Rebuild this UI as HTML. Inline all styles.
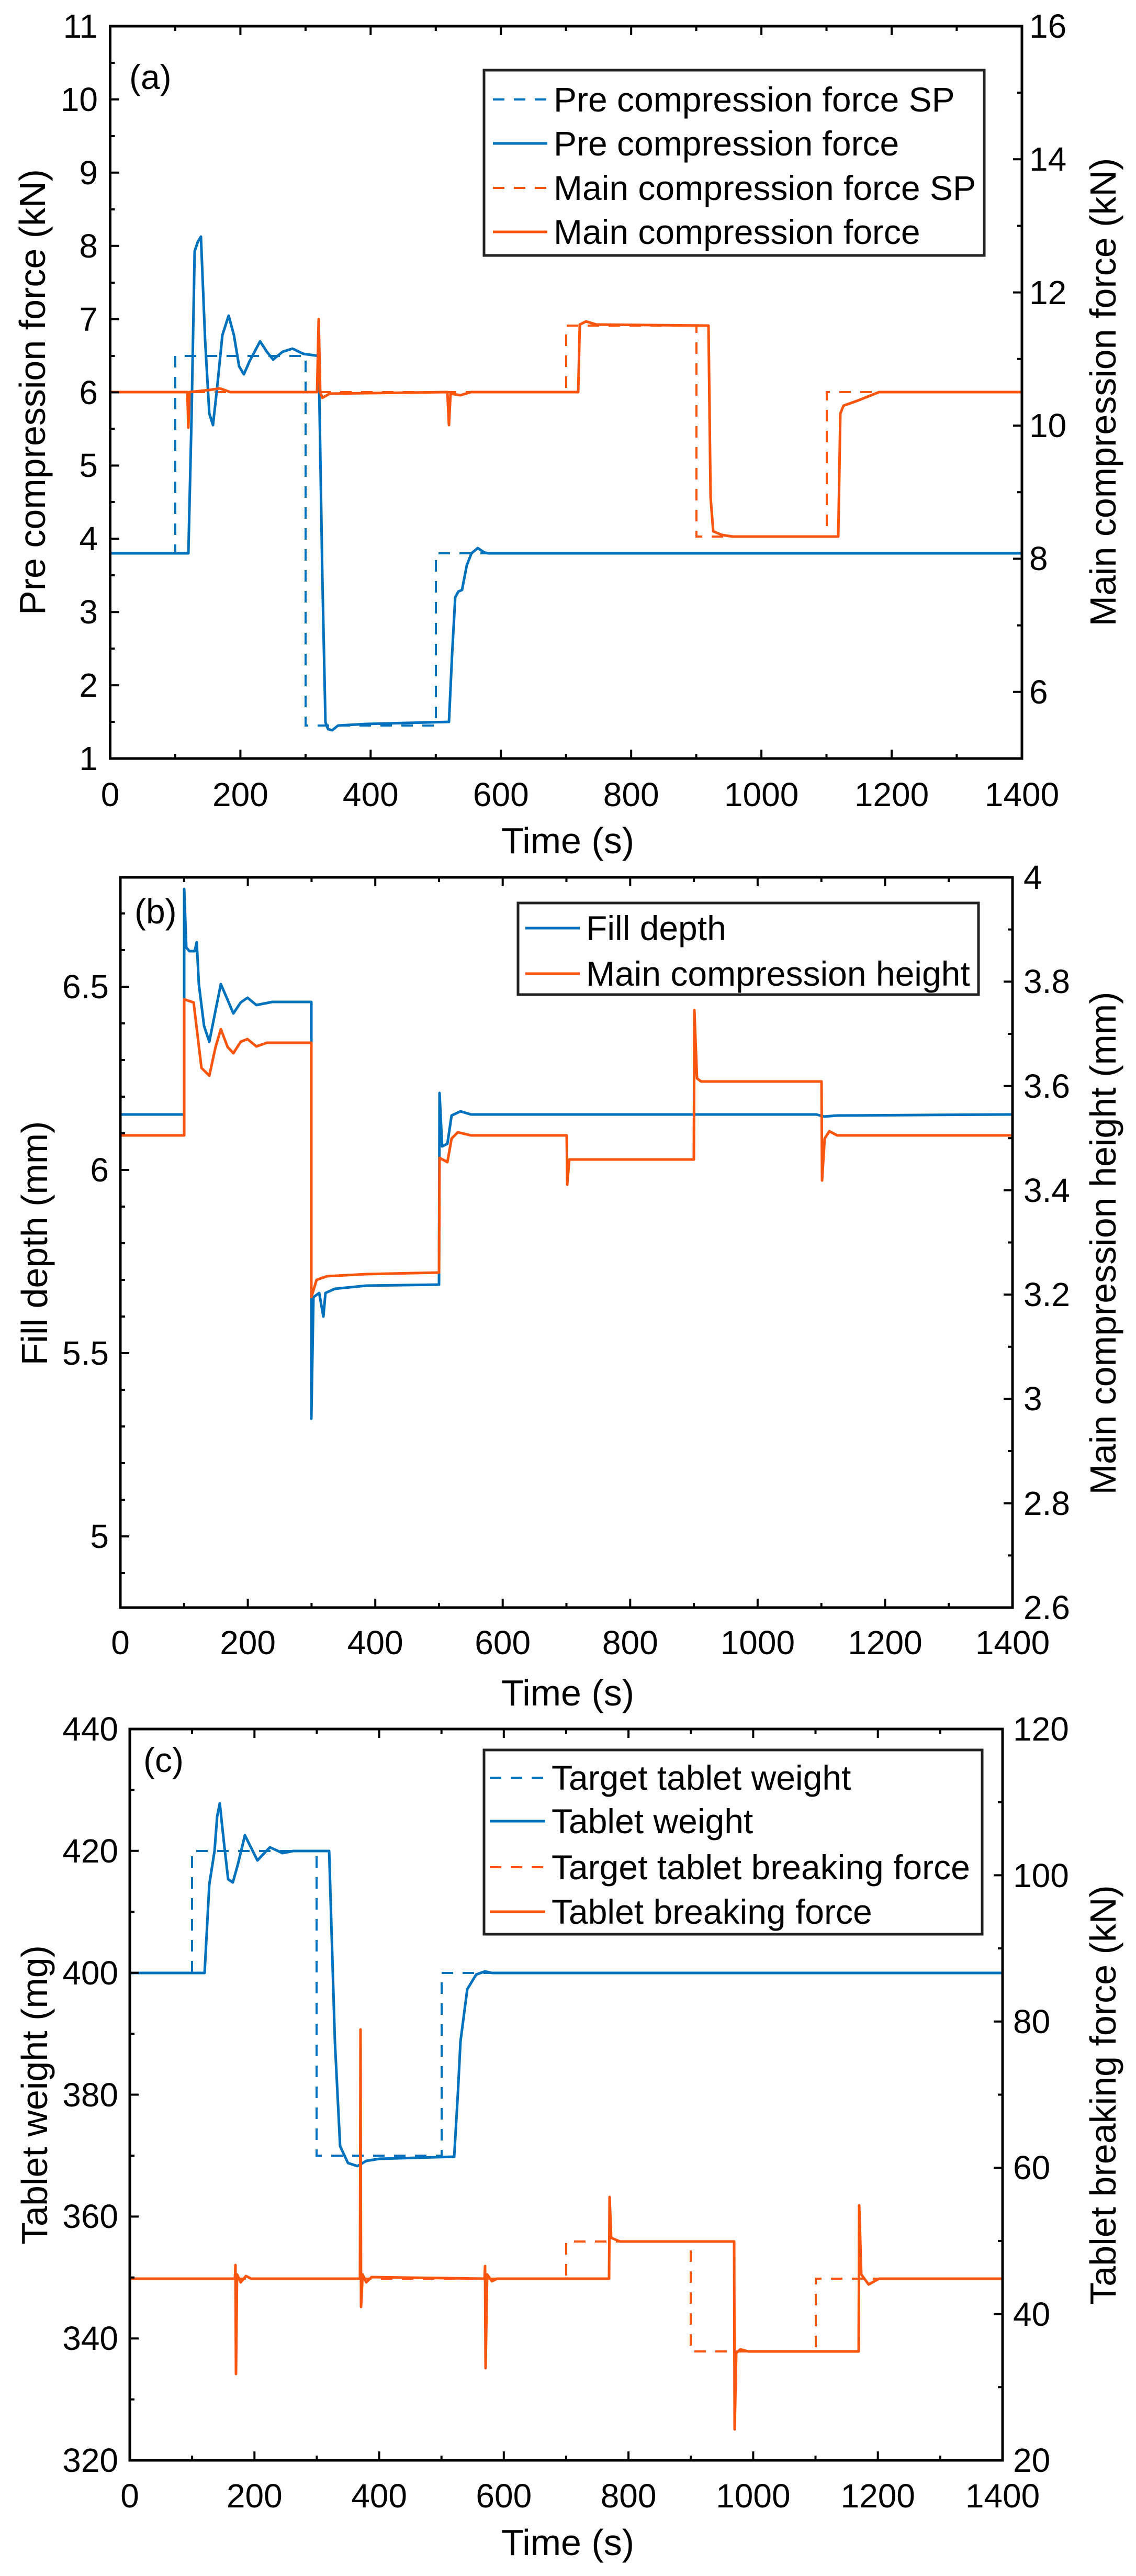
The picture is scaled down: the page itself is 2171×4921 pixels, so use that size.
<!DOCTYPE html>
<html><head><meta charset="utf-8"><style>
html,body{margin:0;padding:0;background:#fff;}
svg{display:block;}
text{font-family:"Liberation Sans",Arial,sans-serif;fill:#000;}
.tk{font-size:64px;}
.lb{font-size:70px;}
.lg{font-size:66px;}
.ax{fill:none;stroke:#000;stroke-width:5;}
.t{stroke:#000;stroke-width:4;fill:none;}
.b{fill:none;stroke:#0072BD;stroke-width:5;stroke-linejoin:round;}
.o{fill:none;stroke:#FA550F;stroke-width:5;stroke-linejoin:round;}
.bd{fill:none;stroke:#0072BD;stroke-width:4;stroke-dasharray:22 18;}
.od{fill:none;stroke:#FA550F;stroke-width:4;stroke-dasharray:22 18;}
</style></head><body>
<svg width="2171" height="4921" viewBox="0 0 2171 4921" xmlns="http://www.w3.org/2000/svg">
<rect width="2171" height="4921" fill="#fff"/>

<!-- ================= PANEL A ================= -->
<polyline class="bd" points="210,1057 335,1057 335,680 584,680 584,1386 833,1386 833,1057 1953,1057"/>
<polyline class="od" points="210,749 1082,749 1082,622 1331,622 1331,1025 1580,1025 1580,749 1953,749"/>
<polyline class="b" points="210,1057 360,1057 366,800 372,480 378,462 384,452 392,650 400,790 407,812 415,740 425,640 437,603 447,640 457,700 466,715 477,690 497,652 510,672 522,687 540,672 559,666 580,676 609,680 616,1100 622,1380 627,1393 635,1395 646,1386 700,1383 858,1379 864,1250 870,1141 876,1130 883,1127 892,1080 901,1057 913,1047 925,1055 932,1057 1953,1057"/>
<polyline class="o" points="210,749 358,749 360,817 362,749 400,745 420,742 440,749 606,749 609,610 612,749 616,760 630,752 855,749 858,812 861,752 880,755 900,749 1105,749 1108,620 1120,614 1140,620 1354,622 1358,950 1363,1015 1380,1022 1400,1025 1602,1025 1606,790 1612,775 1640,765 1680,749 1953,749"/>
<rect class="ax" x="210.5" y="50" width="1742.5" height="1399"/>
<path class="t" d="M210.5,1449v-17M459.4,1449v-17M708.3,1449v-17M957.3,1449v-17M1206.2,1449v-17M1455.1,1449v-17M1704,1449v-17
M210.5,50v17M459.4,50v17M708.3,50v17M957.3,50v17M1206.2,50v17M1455.1,50v17M1704,50v17
M334.9,1449v-9M583.9,1449v-9M832.8,1449v-9M1081.7,1449v-9M1330.6,1449v-9M1579.5,1449v-9M1828.4,1449v-9
M334.9,50v9M583.9,50v9M832.8,50v9M1081.7,50v9M1330.6,50v9M1579.5,50v9M1828.4,50v9
M210.5,1309.1h17M210.5,1169.2h17M210.5,1029.3h17M210.5,889.4h17M210.5,749.5h17M210.5,609.6h17M210.5,469.7h17M210.5,329.8h17M210.5,189.9h17
M210.5,1379h9M210.5,1239h9M210.5,1099h9M210.5,959h9M210.5,819h9M210.5,680h9M210.5,540h9M210.5,400h9M210.5,260h9M210.5,120h9
M1953,1321.8h-17M1953,1067.4h-17M1953,813h-17M1953,558.6h-17M1953,304.2h-17
M1953,1194.6h-9M1953,940.2h-9M1953,685.8h-9M1953,431.4h-9M1953,177h-9"/>
<g class="tk" text-anchor="end">
<text x="187" y="1471">1</text><text x="187" y="1331">2</text><text x="187" y="1191">3</text><text x="187" y="1051">4</text><text x="187" y="911">5</text><text x="187" y="772">6</text><text x="187" y="632">7</text><text x="187" y="492">8</text><text x="187" y="352">9</text><text x="187" y="212">10</text><text x="187" y="72">11</text>
</g>
<g class="tk"><text x="1967" y="1344">6</text><text x="1967" y="1089">8</text><text x="1967" y="835">10</text><text x="1967" y="581">12</text><text x="1967" y="326">14</text><text x="1967" y="72">16</text></g>
<g class="tk" text-anchor="middle"><text x="210.5" y="1540">0</text><text x="459.4" y="1540">200</text><text x="708.3" y="1540">400</text><text x="957.3" y="1540">600</text><text x="1206.2" y="1540">800</text><text x="1455.1" y="1540">1000</text><text x="1704" y="1540">1200</text><text x="1953" y="1540">1400</text></g>
<text class="lb" x="1085" y="1630" text-anchor="middle">Time (s)</text>
<text class="lb" transform="translate(86,749) rotate(-90)" text-anchor="middle">Pre compression force (kN)</text>
<text class="lb" transform="translate(2132,749) rotate(-90)" text-anchor="middle">Main compression force (kN)</text>
<text class="lg" x="247" y="170">(a)</text>
<rect x="925" y="134" width="956" height="354" fill="#fff" stroke="#222" stroke-width="5"/>
<line x1="942" y1="190" x2="1046" y2="190" class="bd" stroke-width="5"/>
<line x1="942" y1="274" x2="1046" y2="274" class="b" stroke-width="4"/>
<line x1="942" y1="359" x2="1046" y2="359" class="od" stroke-width="5"/>
<line x1="942" y1="443" x2="1046" y2="443" class="o"/>
<g class="lg"><text x="1058" y="213">Pre compression force SP</text><text x="1058" y="297">Pre compression force</text><text x="1058" y="382">Main compression force SP</text><text x="1058" y="466">Main compression force</text></g>

<!-- ================= PANEL B ================= -->
<polyline class="b" points="230,2129 352,2129 352,1698 356,1810 362,1817 372,1817 376,1800 380,1880 390,1960 400,1990 410,1940 422,1880 435,1910 446,1936 460,1915 473,1906 490,1920 520,1914 595,1914 595,2710 599,2478 610,2470 618,2515 622,2470 640,2462 700,2456 839,2454 840,2088 845,2190 855,2185 863,2131 880,2123 900,2129 1560,2129 1575,2133 1600,2131 1935,2129"/>
<polyline class="o" points="230,2169 352,2169 352,1909 370,1915 385,2040 400,2055 412,2000 422,1966 435,2000 446,2012 460,1990 473,1985 490,1999 510,1992 595,1992 595,2478 605,2445 625,2438 700,2434 839,2431 840,2212 855,2220 863,2175 875,2163 900,2169 1083,2169 1084,2263 1088,2215 1326,2215 1327,1930 1332,2060 1340,2066 1570,2066 1571,2255 1576,2175 1585,2161 1600,2169 1935,2169"/>
<rect class="ax" x="230" y="1676" width="1705" height="1395"/>
<path class="t" d="M230,3071v-17M473.6,3071v-17M717.2,3071v-17M960.7,3071v-17M1204.3,3071v-17M1447.9,3071v-17M1691.5,3071v-17
M473.6,1676v17M717.2,1676v17M960.7,1676v17M1204.3,1676v17M1447.9,1676v17M1691.5,1676v17
M351.8,3071v-9M595.4,3071v-9M839,3071v-9M1082.5,3071v-9M1326.1,3071v-9M1569.7,3071v-9M1813.2,3071v-9
M351.8,1676v9M595.4,1676v9M839,1676v9M1082.5,1676v9M1326.1,1676v9M1569.7,1676v9M1813.2,1676v9
M230,2935h17M230,2585h17M230,2235h17M230,1885h17
M230,3005h9M230,2865h9M230,2795h9M230,2725h9M230,2655h9M230,2515h9M230,2445h9M230,2375h9M230,2305h9M230,2165h9M230,2095h9M230,2025h9M230,1955h9M230,1815h9M230,1745h9
M1935,1875.3h-17M1935,2074.6h-17M1935,2273.8h-17M1935,2473.1h-17M1935,2672.4h-17M1935,2871.7h-17
M1935,1775.6h-9M1935,1975h-9M1935,2174.2h-9M1935,2373.5h-9M1935,2572.8h-9M1935,2772h-9M1935,2971.4h-9"/>
<g class="tk" text-anchor="end"><text x="208" y="2957">5</text><text x="208" y="2607">5.5</text><text x="208" y="2257">6</text><text x="208" y="1907">6.5</text></g>
<g class="tk"><text x="1956" y="1698">4</text><text x="1956" y="1897">3.8</text><text x="1956" y="2097">3.6</text><text x="1956" y="2296">3.4</text><text x="1956" y="2495">3.2</text><text x="1956" y="2694">3</text><text x="1956" y="2894">2.8</text><text x="1956" y="3093">2.6</text></g>
<g class="tk" text-anchor="middle"><text x="230" y="3160">0</text><text x="473.6" y="3160">200</text><text x="717.2" y="3160">400</text><text x="960.7" y="3160">600</text><text x="1204.3" y="3160">800</text><text x="1447.9" y="3160">1000</text><text x="1691.5" y="3160">1200</text><text x="1935" y="3160">1400</text></g>
<text class="lb" x="1085" y="3258" text-anchor="middle">Time (s)</text>
<text class="lb" transform="translate(90,2375) rotate(-90)" text-anchor="middle">Fill depth (mm)</text>
<text class="lb" transform="translate(2132,2375) rotate(-90)" text-anchor="middle">Main compression height (mm)</text>
<text class="lg" x="257" y="1764">(b)</text>
<rect x="990" y="1725" width="880" height="175" fill="#fff" stroke="#222" stroke-width="5"/>
<line x1="1004" y1="1773" x2="1108" y2="1773" class="b"/>
<line x1="1004" y1="1860" x2="1108" y2="1860" class="o"/>
<g class="lg"><text x="1120" y="1796">Fill depth</text><text x="1120" y="1883">Main compression height</text></g>

<!-- ================= PANEL C ================= -->
<polyline class="bd" points="248,3769 367,3769 367,3536 605,3536 605,4118 844,4118 844,3769 1916,3769"/>
<polyline class="od" points="248,4353 1082,4353 1082,4282 1320,4282 1320,4492 1559,4492 1559,4353 1916,4353"/>
<polyline class="b" points="248,3769 391,3769 400,3600 410,3536 415,3470 420,3445 428,3520 436,3590 445,3596 455,3560 468,3506 480,3530 492,3554 505,3540 516,3529 540,3540 560,3536 629,3536 640,3900 650,4100 665,4132 683,4138 700,4128 725,4124 868,4120 875,4000 880,3900 893,3800 910,3772 927,3766 940,3769 1916,3769"/>
<polyline class="o" stroke-width="4" points="248,4353 449,4353 450,4327 451,4535 453,4345 460,4360 470,4348 480,4353 688,4353 689,3877 690,4407 693,4345 700,4360 710,4350 926,4353 927,4329 928,4524 931,4345 940,4358 950,4353 1164,4353 1165,4197 1168,4275 1185,4282 1403,4282 1404,4641 1407,4495 1415,4488 1430,4492 1641,4492 1642,4213 1646,4345 1660,4364 1680,4353 1916,4353"/>
<rect class="ax" x="248" y="3303" width="1668" height="1397"/>
<path class="t" d="M248,4700v-17M486.3,4700v-17M724.6,4700v-17M962.8,4700v-17M1201.1,4700v-17M1439.4,4700v-17M1677.7,4700v-17
M486.3,3303v17M724.6,3303v17M962.8,3303v17M1201.1,3303v17M1439.4,3303v17M1677.7,3303v17
M367.1,4700v-9M605.4,4700v-9M843.7,4700v-9M1082,4700v-9M1320.3,4700v-9M1558.5,4700v-9M1796.8,4700v-9
M367.1,3303v9M605.4,3303v9M843.7,3303v9M1082,3303v9M1320.3,3303v9M1558.5,3303v9M1796.8,3303v9
M248,3535.8h17M248,3768.7h17M248,4001.5h17M248,4234.4h17M248,4467.2h17
M248,3419.4h9M248,3652.3h9M248,3885.1h9M248,4118h9M248,4350.8h9M248,4583.6h9
M1916,3582.4h-17M1916,3861.8h-17M1916,4141.2h-17M1916,4420.6h-17
M1916,3442.7h-9M1916,3722.1h-9M1916,4001.5h-9M1916,4280.9h-9M1916,4560.3h-9"/>
<g class="tk" text-anchor="end"><text x="226" y="3325">440</text><text x="226" y="3558">420</text><text x="226" y="3791">400</text><text x="226" y="4024">380</text><text x="226" y="4256">360</text><text x="226" y="4489">340</text><text x="226" y="4722">320</text></g>
<g class="tk"><text x="1936" y="3325">120</text><text x="1936" y="3605">100</text><text x="1936" y="3884">80</text><text x="1936" y="4163">60</text><text x="1936" y="4443">40</text><text x="1936" y="4722">20</text></g>
<g class="tk" text-anchor="middle"><text x="248" y="4790">0</text><text x="486.3" y="4790">200</text><text x="724.6" y="4790">400</text><text x="962.8" y="4790">600</text><text x="1201.1" y="4790">800</text><text x="1439.4" y="4790">1000</text><text x="1677.7" y="4790">1200</text><text x="1916" y="4790">1400</text></g>
<text class="lb" x="1085" y="4881" text-anchor="middle">Time (s)</text>
<text class="lb" transform="translate(90,4002) rotate(-90)" text-anchor="middle">Tablet weight (mg)</text>
<text class="lb" transform="translate(2132,4002) rotate(-90)" text-anchor="middle">Tablet breaking force (kN)</text>
<text class="lg" x="274" y="3385">(c)</text>
<rect x="925" y="3343" width="952" height="352" fill="#fff" stroke="#222" stroke-width="5"/>
<line x1="936" y1="3396" x2="1042" y2="3396" class="bd"/>
<line x1="936" y1="3479" x2="1042" y2="3479" class="b"/>
<line x1="936" y1="3567" x2="1042" y2="3567" class="od"/>
<line x1="936" y1="3652" x2="1042" y2="3652" class="o"/>
<g class="lg"><text x="1054" y="3419">Target tablet weight</text><text x="1054" y="3502">Tablet weight</text><text x="1054" y="3590">Target tablet breaking force</text><text x="1054" y="3675">Tablet breaking force</text></g>
</svg>
</body></html>
